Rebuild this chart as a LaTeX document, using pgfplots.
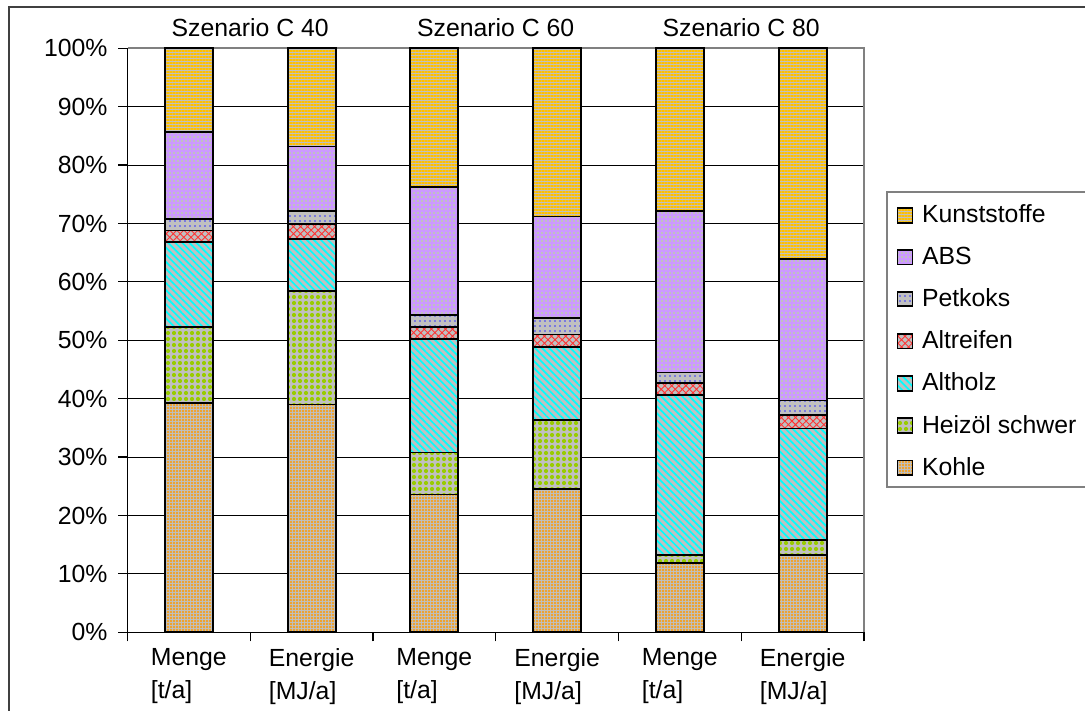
\documentclass[border=0pt]{standalone}
\usepackage{pgfplots}
\pgfplotsset{compat=1.18}
\usepackage{pgfplotstable}
\usepackage{fontspec}
\setmainfont{Liberation Sans}
\usetikzlibrary{patterns.meta}

\definecolor{kgrey}{HTML}{C0C0C0}
\definecolor{kgold}{HTML}{FFC000}
\definecolor{klav}{HTML}{CC99FF}
\definecolor{kblue}{HTML}{3333FF}
\definecolor{kred}{HTML}{FF3333}
\definecolor{kcyan}{HTML}{00FFFF}
\definecolor{kgreen}{HTML}{99CC00}
\definecolor{korange}{HTML}{FF9900}

\pgfplotstableread{
x Kohle Heizoel Altholz Altreifen Petkoks ABS Kunststoffe
0 39.3 13.0 14.5 2.0 2.0 14.8 14.4
1 39.0 19.5 8.8 2.6 2.2 11.1 16.8
2 23.6 7.2 19.4 2.1 2.1 21.9 23.7
3 24.5 11.8 12.6 2.1 2.8 17.4 28.8
4 11.9 1.3 27.4 2.1 1.8 27.7 27.8
5 13.2 2.6 19.1 2.3 2.5 24.2 36.1
}\datatable

\newcommand{\chfont}{\fontsize{12.4bp}{16.5bp}\selectfont}

\pgfplotsset{
  kbar/.style={ybar, draw=black, line width=0.9bp,
    preaction={fill=kgrey}, preaction={#1}},
}

\begin{document}
\begin{tikzpicture}
\useasboundingbox (0,0) rectangle (542.5bp,355.5bp);
\begin{axis}[
  at={(63.75bp,39.35bp)}, anchor=south west,
  scale only axis, width=368.25bp, height=292bp,
  ybar stacked, bar width=24bp,
  xmin=-0.5, xmax=5.5, ymin=0, ymax=100,
  clip=false,
  axis x line*=bottom, axis y line*=left,
  axis line style={black, line width=0.6bp},
  every axis line/.append style={-},
  xtick={-0.5,0.5,...,5.5},
  x tick label as interval,
  xticklabels={{Menge\\{}[t/a]},{Energie\\{}[MJ/a]},{Menge\\{}[t/a]},{Energie\\{}[MJ/a]},{Menge\\{}[t/a]},{Energie\\{}[MJ/a]}},
  xticklabel style={font=\chfont, align=left},
  ytick={0,10,...,100},
  yticklabel={\pgfmathprintnumber{\tick}\%},
  yticklabel style={font=\chfont, xshift=-2bp},
  /pgf/number format/assume math mode=true,
  tick align=outside, major tick length=4.5bp,
  tick style={black, line width=0.6bp},
  ymajorgrids, grid style={black, line width=0.5bp},
  reverse legend,
  legend cell align=left,
  legend image code/.code={\draw[#1,line width=0.6bp] (0bp,-3.6bp) rectangle (7.5bp,3.6bp);},
  legend style={draw=none, fill=none, at={(1.044,0.7375)}, anchor=north west,
    font=\chfont, row sep=7.6bp, inner sep=0pt,
    nodes={inner sep=1.5bp}, /tikz/column 1/.style={column sep=3bp}},
]
\addplot[kbar={pattern={Dots[distance=1.5bp, radius=0.55bp]}, pattern color=korange}] table[x=x, y=Kohle]{\datatable};
\addlegendentry{Kohle}
\addplot[kbar={pattern={Dots[distance=3bp, radius=1.05bp]}, pattern color=kgreen}] table[x=x, y=Heizoel]{\datatable};
\addlegendentry{Heizöl schwer}
\addplot[kbar={pattern={Lines[angle=-45, distance=2.5bp, line width=0.85bp]}, pattern color=kcyan}] table[x=x, y=Altholz]{\datatable};
\addlegendentry{Altholz}
\addplot[kbar={pattern={Hatch[angle=45, distance=2.5bp, line width=0.45bp]}, pattern color=kred}] table[x=x, y=Altreifen]{\datatable};
\addlegendentry{Altreifen}
\addplot[kbar={pattern={Dots[distance=2.5bp, radius=0.4bp]}, pattern color=kblue}] table[x=x, y=Petkoks]{\datatable};
\addlegendentry{Petkoks}
\addplot[kbar={pattern={Hatch[angle=0, distance=2bp, line width=0.9bp]}, pattern color=klav}] table[x=x, y=ABS]{\datatable};
\addlegendentry{ABS}
\addplot[kbar={pattern={Lines[angle=0, distance=1.5bp, line width=0.75bp]}, pattern color=kgold}] table[x=x, y=Kunststoffe]{\datatable};
\addlegendentry{Kunststoffe}
\draw[color=black!50, line width=0.9bp] (rel axis cs:0,1) -- (rel axis cs:1,1) -- (rel axis cs:1,0);
\node[font=\chfont, anchor=base, yshift=5.8bp] at (axis cs:0.5,100) {Szenario C 40};
\node[font=\chfont, anchor=base, yshift=5.8bp] at (axis cs:2.5,100) {Szenario C 60};
\node[font=\chfont, anchor=base, yshift=5.8bp] at (axis cs:4.5,100) {Szenario C 80};
\end{axis}
\draw[color=black!75, line width=0.8bp] (4.5bp,-5bp) -- (4.5bp,352bp) -- (560bp,352bp);
\draw[color=black!50, line width=0.8bp] (560bp,112bp) -- (443.5bp,112bp) -- (443.5bp,259.5bp) -- (560bp,259.5bp);
\end{tikzpicture}
\end{document}
